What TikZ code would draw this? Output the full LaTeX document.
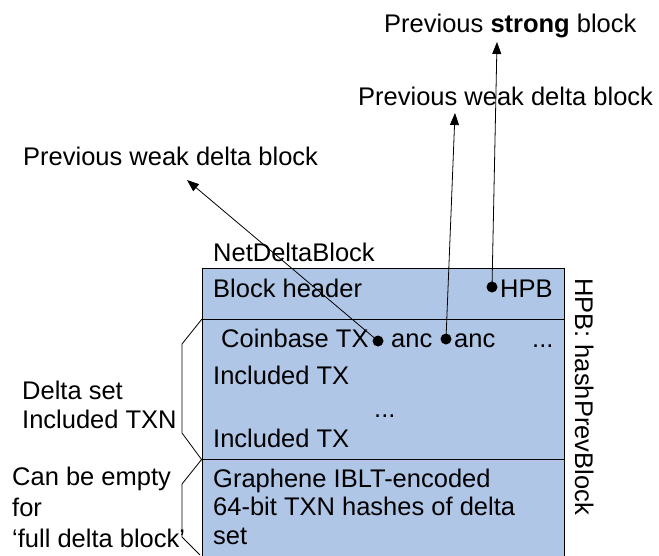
\documentclass[tikz,border=0pt]{standalone}
\usepackage{fontspec}
\setmainfont{Liberation Sans}
\usetikzlibrary{arrows.meta}
\usetikzlibrary{positioning}

\definecolor{blockblue}{RGB}{176,198,231}

\tikzset{
  txt/.style={anchor=base west,inner sep=0pt,font=\fontsize{25.5}{28.5}\selectfont},
  dot/.style={circle,fill=black,inner sep=0pt,minimum size=11pt},
  part/.style={draw=black,fill=blockblue,line width=1.1pt,anchor=north west,inner sep=0pt,minimum width=362pt},
  ref/.style={-{Triangle[length=12pt,width=9pt]},line width=0.8pt},
  brace/.style={line width=0.8pt}
}

\begin{document}
\begin{tikzpicture}[x=1pt,y=-1pt]
        \useasboundingbox (0,0) rectangle (659,555);

        % the block and its three parts
        \node[part,minimum height=51pt] (header) at (202,268) {};
        \node[part,minimum height=140pt] (incl) at (202,319) {};
        \node[part,minimum height=100pt] (iblt) at (202,459) {};

        \node[txt] (name) at (213,261) {NetDeltaBlock};
        \node[txt] (hdr) at (213,297) {Block header};
        \node[dot] (hpbdot) at (492,287) {};
        \node[txt] (hpb) at (500,297) {HPB};

        \node[txt] (cb) at (221,347) {Coinbase TX};
        \node[dot] (anc1) at (378,341) {};
        \node[txt] (anctxt1) at (391,347) {anc};
        \node[dot] (anc2) at (446,339) {};
        \node[txt] (anctxt2) at (454,347) {anc};
        \node[txt] (morea) at (532,347) {...};
        \node[txt] (inc1) at (213,384) {Included TX};
        \node[txt] (moreb) at (374,417) {...};
        \node[txt] (inc2) at (213,447) {Included TX};

        % multi-line texts sit on their last line
        \node[txt,align=left] (graph) at (213,544) {Graphene IBLT-encoded\\64-bit TXN hashes of delta\\set};

        \node[txt,rotate=-90] (legend) at (575,278) {HPB: hashPrevBlock};

        % left side notes
        \node[txt,align=left] (delta) at (22,428) {Delta set\\Included TXN};
        \node[txt,align=left,font=\fontsize{25.5}{31}\selectfont] (empty) at (12,547) {Can be empty\\for\\‘full delta block’};

        \draw[brace] (incl.north west) -- ++(-20,25) -- (182,433) -- (incl.south west);
        \draw[brace] (iblt.north west) -- ++(-20,25) -- (182,537) -- (200,555);

        % previous blocks
        \node[txt] (prevweakL) at (23,165) {Previous weak delta block};
        \node[txt] (prevweakR) at (358,105) {Previous weak delta block};
        \node[txt] (prevstrong) at (384,32) {Previous \textbf{strong} block};

        \coordinate (tipL) at (187,180);
        \coordinate (tipR) at (455,113);
        \coordinate (tipS) at (497,42);

        \draw[ref] (anc1.center) -- (tipL);
        \draw[ref] (anc2.center) -- (tipR);
        \draw[ref] (hpbdot.center) -- (tipS);

    \end{tikzpicture}
\end{document}
